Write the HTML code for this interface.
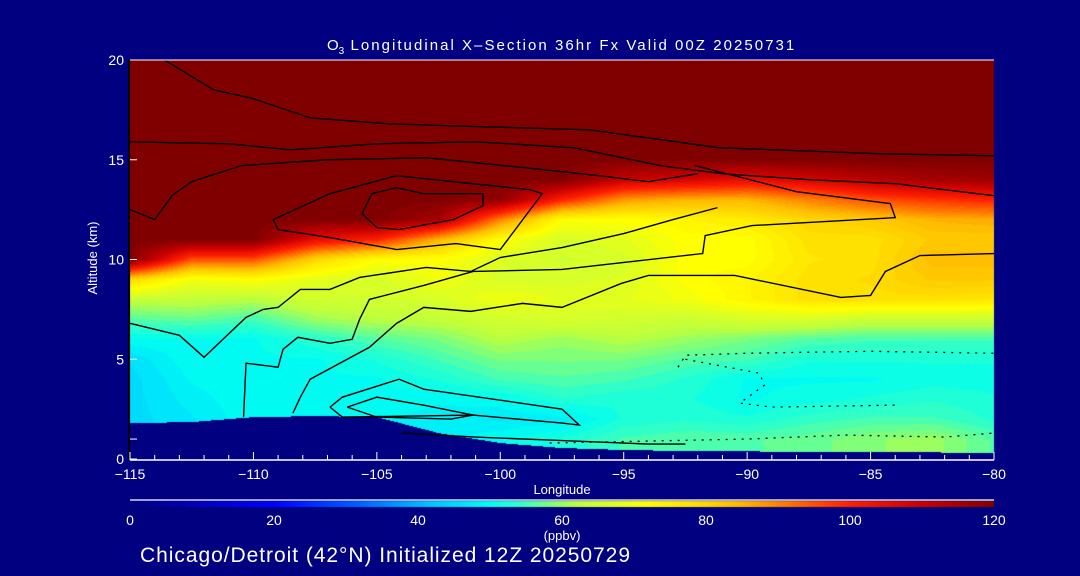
<!DOCTYPE html>
<html><head><meta charset="utf-8">
<style>
html,body{margin:0;padding:0;background:#000080;}
#wrap{position:relative;width:1080px;height:576px;background:#000080;overflow:hidden;font-family:"Liberation Sans",sans-serif;}
canvas{position:absolute;left:0;top:0;}
svg{position:absolute;left:0;top:0;}
</style></head>
<body>
<div id="wrap">
<canvas id="field" width="1080" height="576"></canvas>
<svg id="ov" width="1080" height="576"></svg>
</div>
<script>
// ---- data ----
const lons = [-115,-112.5,-110,-107.5,-105,-102.5,-100,-97.5,-95,-92.5,-90,-87.5,-85,-82.5,-80];
const alts = [0,1,2,3,4,5,6,7,8,9,10,11,12,13,14,15,16,17,18,19,20];
const terrain = [1.8,1.85,2.1,2.15,2.1,1.3,0.8,0.55,0.45,0.4,0.38,0.36,0.35,0.33,0.3];
// ozone (ppbv) columns by longitude, rows alt 0..20
const col0  = [45,45,45,45,45,46,50,56,63,80,120,120,120,120,120,120,120,120,120,120,120];
const col1  = [47,47,47,48,49,50,50,57,63,70,95,120,120,120,120,120,120,120,120,120,120];
const col2  = [50,50,50,50,50,50,50,55,62,72,95,120,120,120,120,120,120,120,120,120,120];
const col3  = [50,50,50,50,50,50,53,60,65,68,80,105,120,120,120,120,120,120,120,120,120];
const col4  = [49,49,49,50,50,52,56,62,65,66,72,100,120,120,120,120,120,120,120,120,120];
const col5  = [48,48,48,49,52,55,58,63,66,70,72,85,115,120,120,120,120,120,120,120,120];
const col6  = [50,50,47,50,55,58,62,65,70,66,67,72,90,118,120,120,120,120,120,120,120];
const col7  = [52,52,48,53,56,58,60,66,68,66,65,66,72,100,120,120,120,120,120,120,120];
const col8  = [55,55,52,52,55,58,62,65,68,67,66,68,72,88,110,120,120,120,120,120,120];
const col9  = [56,56,53,52,53,56,60,64,70,72,72,72,74,85,108,120,120,120,120,120,120];
const col10 = [56,56,52,50,50,55,58,66,74,74,72,72,76,85,105,120,120,120,120,120,120];
const col11 = [57,57,54,51,50,52,56,66,78,78,77,78,80,90,108,120,120,120,120,120,120];
const col12 = [59,59,55,52,50,52,55,64,78,79,78,78,82,95,112,120,120,120,120,120,120];
const col13 = [60,60,55,53,51,52,55,64,78,82,84,82,85,98,115,120,120,120,120,120,120];
const col14 = [56,56,53,52,51,52,55,64,77,82,84,82,86,100,116,120,120,120,120,120,120];
const ozone = [col0,col1,col2,col3,col4,col5,col6,col7,col8,col9,col10,col11,col12,col13,col14];
const xTicks = [-115,-110,-105,-100,-95,-90,-85,-80];
const yTicks = [0,5,10,15,20];
const cbTicks = [0,20,40,60,80,100,120];
// contours (lon, alt)
const contourA = [[-113.6,20],[-111.6,18.5],[-110.1,18.1],[-107.7,17.1],[-104.5,16.8],[-102,16.7],[-96.4,16.5],[-91.1,15.6],[-84.6,15.3],[-80,15.2]];
const contourB = [[-115,15.9],[-111,15.8],[-108.5,15.5],[-105,15.8],[-101,15.9],[-97,15.6],[-93.5,14.7],[-91,14.3],[-87.5,14.0],[-84,13.8],[-80,13.2]];
const contourC = [[-115,12.5],[-114,12.0],[-113.3,13.2],[-112.5,13.9],[-110.5,14.7],[-107,15.0],[-103,15.1],[-99,14.6],[-96,14.2],[-94,13.9],[-92,14.3]];
const contourD = [[-109.2,12.0],[-109.0,11.5],[-106.9,11.1],[-104.2,10.5],[-101.8,10.8],[-100,10.5],[-98.3,13.3],[-98.8,13.5],[-104.2,14.2],[-106.9,13.3],[-109.2,12.0]];
const contourD2 = [[-105.6,12.3],[-105,11.6],[-104.1,11.5],[-101.9,12.0],[-100.7,12.7],[-100.7,13.3],[-103.1,13.3],[-104.2,13.6],[-105.2,13.3],[-105.6,12.3]];
const contourE = [[-115,6.8],[-113,6.2],[-112,5.1],[-110.3,7.1],[-109.6,7.5],[-109,7.6],[-108.1,8.5],[-106.9,8.5],[-105.7,9.1],[-103,9.6],[-101.2,9.4],[-100,10.1],[-97.5,10.6],[-95,11.3],[-93,12.0],[-91.2,12.6]];
const contourF = [[-108.4,2.3],[-108.1,3.1],[-107.7,4.0],[-105.3,5.6],[-104.2,6.8],[-103.1,7.6],[-101.2,7.4],[-99.1,7.8],[-97.5,7.6],[-95.1,8.8],[-94,9.2],[-90.5,9.2],[-86.2,8.1],[-85,8.2],[-84.4,9.4],[-83,10.2],[-80,10.3]];
const contourG = [[-110.4,2.1],[-110.3,4.8],[-109,4.6],[-108.8,5.5],[-108.2,6.1],[-106.9,5.8],[-106,6.0],[-105.7,7.0],[-105.3,8.0],[-103.1,8.7],[-101.1,9.4],[-97.5,9.5],[-91.8,10.3],[-91.7,11.2],[-89.8,11.7],[-84,12.1],[-84.2,12.8],[-88,13.4],[-92.1,14.7]];
const contourH = [[-106.9,2.6],[-106.4,3.1],[-104.1,4.0],[-103.1,3.5],[-97.5,2.5],[-96.8,1.7],[-97.5,1.8],[-101.1,2.2],[-106.4,2.1],[-106.9,2.6]];
const contourH2 = [[-106.2,2.6],[-105,3.1],[-103.1,2.7],[-101.1,2.2],[-102,2.0],[-105,2.1],[-106.2,2.6]];
const contourI = [[-104,1.3],[-101,1.1],[-97,0.9],[-94,0.75],[-92.5,0.75]];
const dottedA = [[-92.8,4.6],[-92.5,5.2],[-90,5.3],[-85,5.4],[-80,5.3]];
const dottedB = [[-92.5,5.0],[-89.5,4.3],[-89.3,3.7],[-90.3,2.8],[-89,2.6],[-84,2.7]];
const dottedC = [[-98,0.8],[-94,0.9],[-90,1.0],[-86,1.2],[-82,1.1],[-80,1.3]];
const solidContours = [contourA,contourB,contourC,contourD,contourD2,contourE,contourF,contourG,contourH,contourH2,contourI];
const dottedContours = [dottedA,dottedB,dottedC];

// ---- axes ----
const X0=130,X1=994,Y0=459,Y1=60;
function xs(lon){return X0+(lon+115)/35*(X1-X0);}
function ys(a){return Y0-a/20*(Y0-Y1);}
function cbx(v){return X0+v/120*(X1-X0);}

const stops=[[0,[0,0,128]],[20,[0,0,255]],[32,[0,100,255]],[42,[0,200,255]],[47,[0,232,250]],[50,[0,255,240]],[54,[48,255,200]],[58,[120,255,130]],[62,[190,255,60]],[66,[215,255,40]],[72,[255,255,0]],[78,[255,225,0]],[84,[255,190,0]],[90,[255,130,0]],[100,[255,30,0]],[110,[200,0,0]],[120,[128,0,0]]];
function cmap(v){
  if(v<=0)return stops[0][1];
  for(let i=1;i<stops.length;i++){
    if(v<=stops[i][0]){const a=stops[i-1],b=stops[i];const t=(v-a[0])/(b[0]-a[0]);
      return [0,1,2].map(k=>Math.round(a[1][k]+(b[1][k]-a[1][k])*t));}
  }
  return stops[stops.length-1][1];
}
function interpField(lon,alt){
  let fi=(lon-lons[0])/2.5; fi=Math.max(0,Math.min(lons.length-1.0001,fi));
  let fj=alt; fj=Math.max(0,Math.min(alts.length-1.0001,fj));
  const i=Math.floor(fi),j=Math.floor(fj),u=fi-i,w=fj-j;
  const a=ozone[i][j],b=ozone[i+1][j],c=ozone[i][j+1],d=ozone[i+1][j+1];
  return a*(1-u)*(1-w)+b*u*(1-w)+c*(1-u)*w+d*u*w;
}
function interpTerrain(lon){
  let fi=(lon-lons[0])/2.5; fi=Math.max(0,Math.min(lons.length-1.0001,fi));
  const i=Math.floor(fi),u=fi-i;return terrain[i]*(1-u)+terrain[i+1]*u;
}
const cv=document.getElementById('field');const ctx=cv.getContext('2d');
const img=ctx.createImageData(X1-X0,Y0-Y1);
for(let py=0;py<Y0-Y1;py++){
  const alt=(Y0-(Y1+py+0.5))/(Y0-Y1)*20;
  for(let px=0;px<X1-X0;px++){
    const lon=-115+(px+0.5)/(X1-X0)*35;
    let c;
    if(alt<interpTerrain(lon)) c=[0,0,128]; else c=cmap(Math.round(interpField(lon,alt)/1.5)*1.5);
    const k=(py*(X1-X0)+px)*4;img.data[k]=c[0];img.data[k+1]=c[1];img.data[k+2]=c[2];img.data[k+3]=255;
  }
}
ctx.putImageData(img,X0,Y1);
// colorbar
for(let x=X0;x<X1;x++){const v=(x-X0)/(X1-X0)*120;const c=cmap(v);ctx.fillStyle=`rgb(${c[0]},${c[1]},${c[2]})`;ctx.fillRect(x,501,1,6);}

const NS='http://www.w3.org/2000/svg';const svg=document.getElementById('ov');
function mk(tag,attrs,parent){const e=document.createElementNS(NS,tag);for(const k in attrs)e.setAttribute(k,attrs[k]);(parent||svg).appendChild(e);return e;}
function txt(s,x,y,size,anchor,name){const t=mk('text',{x:x,y:y,'font-size':size,fill:'#fff','text-anchor':anchor||'middle','font-family':'Liberation Sans, sans-serif'});t.textContent=s;


return t;}

// contours
solidContours.forEach(cs=>{
  const p=mk('polyline',{points:cs.map(q=>xs(q[0])+','+ys(q[1])).join(' '),fill:'none',stroke:'#000','stroke-width':1.4});
  
  
});
dottedContours.forEach(cs=>{
  const p=mk('polyline',{points:cs.map(q=>xs(q[0])+','+ys(q[1])).join(' '),fill:'none',stroke:'#000','stroke-width':1.3,'stroke-dasharray':'2 6'});
  
  
});

// axes lines
const ax=mk('line',{x1:X0,y1:460,x2:X1,y2:460,stroke:'#fff','stroke-width':1.5});


const topBorder=mk('line',{x1:X0,y1:Y1,x2:X1,y2:Y1,stroke:'#fff','stroke-width':1});


const la=mk('line',{x1:X0-1,y1:Y1,x2:X0-1,y2:Y0,stroke:'#000','stroke-width':2});


for(let l=-115;l<=-80;l++){
  const maj=(l%5===0);
  const t=mk('line',{x1:xs(l),y1:460,x2:xs(l),y2:maj?452:455,stroke:'#fff','stroke-width':1});
  
  
}
xTicks.forEach(l=>txt('\u2212'+Math.abs(l),xs(l),479,14,'middle','x-tick-label'));
yTicks.forEach(a=>{txt(String(a),124,ys(a)+5,14,'end','y-tick-label');
  const t=mk('line',{x1:X0,y1:ys(a),x2:X0+7,y2:ys(a),stroke:'#fff','stroke-width':1});
  
  });
const mt=mk('line',{x1:X0,y1:ys(1),x2:X0+7,y2:ys(1),stroke:'#fff','stroke-width':1});


txt('Longitude',562,494,13,'middle','x-axis-title');
const yt=txt('Altitude (km)',97,258,13,'middle','y-axis-title');yt.setAttribute('transform','rotate(-90 97 258)');
// title
const tt=mk('text',{x:327,y:50,'font-size':15,fill:'#fff','text-anchor':'start','font-family':'Liberation Sans, sans-serif'});


tt.innerHTML='O<tspan font-size="10" dy="4">3</tspan><tspan dy="-4" textLength="450" lengthAdjust="spacing"> Longitudinal X\u2013Section 36hr  Fx Valid 00Z 20250731</tspan>';
// colorbar
const cbl=mk('line',{x1:X0,y1:500,x2:X1,y2:500,stroke:'#fff','stroke-width':1.2});


cbTicks.forEach(v=>txt(String(v),cbx(v),525,14,'middle','colorbar-tick-label'));
txt('(ppbv)',562,540,13,'middle','colorbar-unit');
const st=txt('Chicago/Detroit (42\u00b0N) Initialized 12Z 20250729',140,562,21,'start','subtitle');
st.setAttribute('textLength','490');
st.setAttribute('lengthAdjust','spacing');
</script>
</body></html>
